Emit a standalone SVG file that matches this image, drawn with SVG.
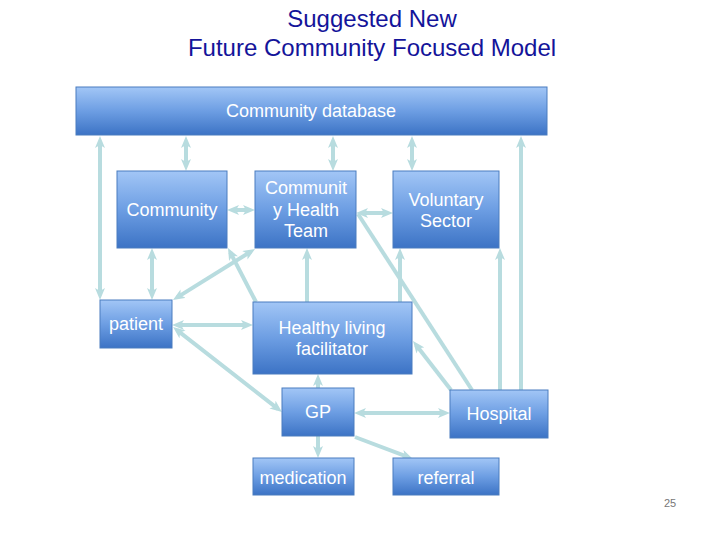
<svg xmlns="http://www.w3.org/2000/svg" width="720" height="540" viewBox="0 0 720 540">
<defs>
<linearGradient id="g" x1="0" y1="0" x2="0" y2="1">
<stop offset="0" stop-color="#a2c6f6"/>
<stop offset="0.5" stop-color="#6d9ee3"/>
<stop offset="1" stop-color="#3c73c5"/>
</linearGradient>
<marker id="a" viewBox="0 0 12 10" markerWidth="12" markerHeight="10" refX="7" refY="5" orient="auto-start-reverse" markerUnits="userSpaceOnUse">
<path d="M0,0 L12,5 L0,10 L3,5 z" fill="#b8dcdf"/>
</marker>
</defs>
<style>
.box{fill:url(#g);stroke:#4a7dbf;stroke-width:1}
.t{font-family:"Liberation Sans",Arial,sans-serif;font-size:18px;fill:#ffffff;text-anchor:middle}
.c{fill:none;stroke:#b8dcdf;stroke-width:4}
.b{marker-start:url(#a);marker-end:url(#a)}
.e{marker-end:url(#a)}
.title{font-family:"Liberation Sans",Arial,sans-serif;font-size:24px;fill:#14149a;text-anchor:middle}
</style>
<rect width="720" height="540" fill="#ffffff"/>
<text class="title" x="372" y="27">Suggested New</text>
<text class="title" x="372" y="56">Future Community Focused Model</text>
<g id="connectors">
<path class="c b" d="M100,141 L100,295"/>
<path class="c b" d="M186,141 L186,166"/>
<path class="c b" d="M333,141 L333,166"/>
<path class="c b" d="M412,141 L412,166"/>
<path class="c e" d="M521,390 L521,141"/>
<path class="c b" d="M232,210 L250,210"/>
<path class="c b" d="M361,213 L388,213"/>
<path class="c b" d="M152,253 L152,295"/>
<path class="c b" d="M177.2,297.4 L250.8,251.6"/>
<path class="c e" d="M256,302 L230.3,252.4"/>
<path class="c e" d="M307,302 L307,253"/>
<path class="c e" d="M400,302 L400,253"/>
<path class="c e" d="M500,390 L500,253"/>
<path class="c" d="M472,390 L358,214"/>
<path class="c e" d="M451,390 L416.1,345"/>
<path class="c b" d="M177,330.1 L278,408.9"/>
<path class="c b" d="M177,325 L248,325"/>
<path class="c e" d="M318,388 L318,379"/>
<path class="c b" d="M359,413 L445,413"/>
<path class="c e" d="M318,436 L318,453"/>
<path class="c e" d="M355,437 L408.3,457.2"/>
</g>
<g id="db"><rect class="box" x="76" y="87" width="471" height="48"/><text class="t" x="311" y="117">Community database</text></g>
<g id="community"><rect class="box" x="117" y="171" width="110" height="77"/><text class="t" x="172" y="216">Community</text></g>
<g id="cht"><rect class="box" x="255" y="171" width="101" height="77"/><text class="t" x="306" y="194">Communit</text><text class="t" x="306" y="216">y Health</text><text class="t" x="306" y="237">Team</text></g>
<g id="voluntary"><rect class="box" x="393" y="171" width="106" height="77"/><text class="t" x="446" y="206">Voluntary</text><text class="t" x="446" y="227">Sector</text></g>
<g id="patient"><rect class="box" x="100" y="300" width="72" height="48"/><text class="t" x="136" y="330">patient</text></g>
<g id="hlf"><rect class="box" x="253" y="302" width="159" height="72"/><text class="t" x="332" y="334">Healthy living</text><text class="t" x="332" y="355">facilitator</text></g>
<g id="gp"><rect class="box" x="282" y="388" width="72" height="48"/><text class="t" x="318" y="418">GP</text></g>
<g id="hospital"><rect class="box" x="450" y="390" width="98" height="48"/><text class="t" x="499" y="420">Hospital</text></g>
<g id="medication"><rect class="box" x="253" y="458" width="101" height="37"/><text class="t" x="303" y="484">medication</text></g>
<g id="referral"><rect class="box" x="393" y="458" width="106" height="37"/><text class="t" x="446" y="484">referral</text></g>
<text x="670" y="507" font-family="Liberation Sans,Arial,sans-serif" font-size="11" fill="#777777" text-anchor="middle">25</text>
</svg>
